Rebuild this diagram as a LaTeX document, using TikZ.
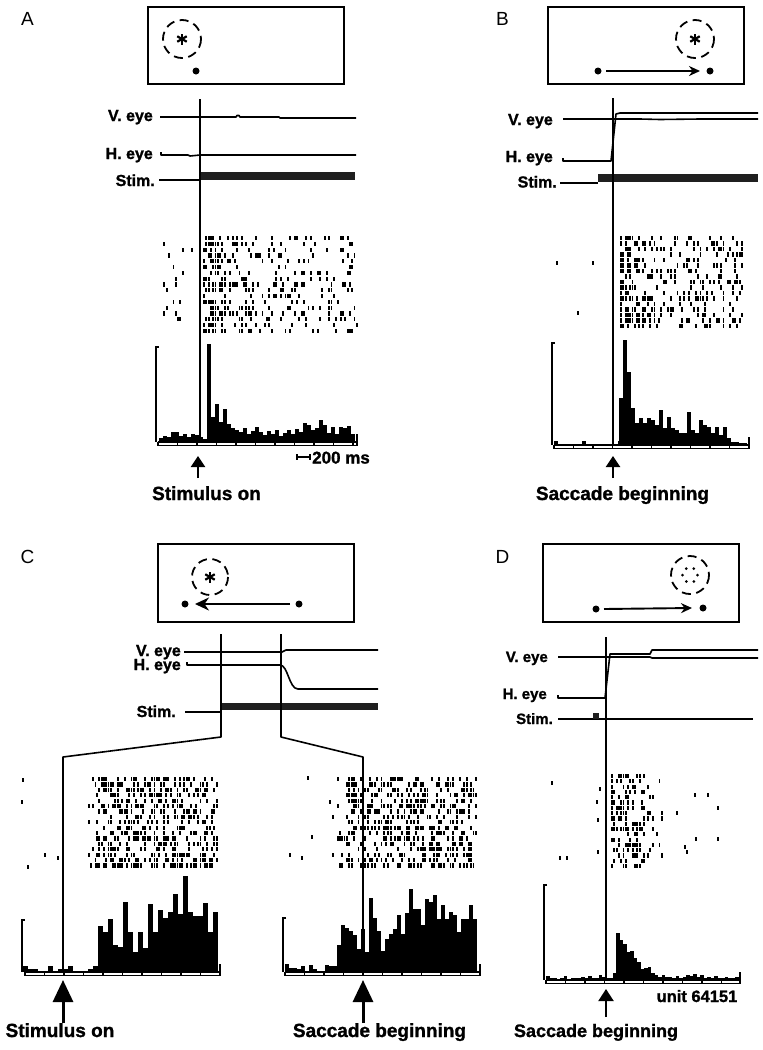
\documentclass[tikz,border=0pt]{standalone}
\usepackage{fontspec}
\setmainfont{Liberation Sans}[BoldFeatures={FakeBold=1.3}]
\usetikzlibrary{arrows.meta}

\newcommand\rasterblk[6]{% x0, x1, ytop, nrows, rowsep, probability
  \pgfmathtruncatemacro\rbn{(#2-#1)/2.3}%
  \foreach \rr in {1,...,#4}{%
    \foreach \cc in {0,...,\rbn}{%
      \pgfmathsetmacro\rbv{rnd}%
      \ifdim\rbv pt<#6pt
        \fill ({#1+\cc*2.3-0.95},{#3+(\rr-1)*#5-2.1}) rectangle ++(1.9,4.2);
      \fi
    }%
  }%
}
\newcommand\spk[2]{\fill ({#1-0.95},{#2-2.1}) rectangle ++(1.9,4.2);}
\newcommand\histo[4]{% x0, baseline, bin width, heights
  \foreach \hh [count=\ii from 0] in {#4}{%
    \fill ({#1+\ii*#3},#2) rectangle ({#1+(\ii+1)*#3},{#2-\hh});
  }}
\newcommand\haxis[4]{% x0, x1, y, tick spacing
  \draw[line width=1.2pt] (#1,#3) -- (#2,#3);
  \draw[line width=1.2pt] (#1,{#3+3.5}) -- (#2,{#3+3.5});
  \pgfmathtruncatemacro\hxn{(#2-#1)/#4}%
  \foreach \kk in {0,...,\hxn}{\draw[line width=1.1pt] ({#1+\kk*#4},#3) -- ++(0,3.5);}
  \draw[line width=1.3pt] (#2,{#3-8}) -- (#2,{#3+3.5});
}
\newcommand\ybrack[3]{\draw[line width=1.5pt] ({#1+3},#2) -- (#1,#2) -- (#1,#3);}
\newcommand\aster[2]{\foreach \aa in {90,30,-30}{\draw[line width=2.2pt] (#1,#2) ++(\aa:5.5) -- ++(\aa+180:11);}}

\tikzset{
  trace/.style={line width=1.6pt, line join=round},
  frame/.style={line width=1.8pt},
  evline/.style={line width=1.6pt},
  rf/.style={line width=1.8pt, dash pattern=on 9pt off 5.5pt},
  stimbar/.style={fill=black!88},
  tlabel/.style={font=\bfseries\fontsize{16}{19}\selectfont, anchor=base east, inner sep=0pt},
  dlabel/.style={font=\bfseries\fontsize{15}{18}\selectfont, anchor=base east, inner sep=0pt},
  biglabel/.style={font=\bfseries\fontsize{19}{22}\selectfont, anchor=base, inner sep=0pt},
  plabel/.style={font=\fontsize{19}{22}\selectfont, anchor=base, inner sep=0pt},
  evarrow/.style={line width=2.4pt, -{Triangle[width=14pt,length=11pt]}},
  bigarrow/.style={line width=3pt, -{Triangle[width=20pt,length=22pt]}},
  sacc/.style={line width=1.9pt, -{Stealth[width=10pt,length=11pt]}},
  dotf/.style={fill=black},
}

\begin{document}
\begin{tikzpicture}[x=1pt,y=-1pt]
\useasboundingbox (0,0) rectangle (763,1050);
\pgfmathsetseed{2718}

% ================= Panel A =================
\node[plabel] (A-let) at (27.5,25) {A};
\draw[frame] (148,7) rectangle (344,84);
\coordinate (A-rf) at (182,39);
\draw[rf] (A-rf) circle[radius=19];
\aster{182}{39}
\fill[dotf] (196,71) circle[radius=3.5];
\node[tlabel] (A-v) at (153,121) {V. eye};
\node[tlabel] (A-h) at (153,159) {H. eye};
\node[tlabel] (A-s) at (155,186) {Stim.};
\draw[trace] (160,117) -- (236,117) -- (237,115.5) -- (239,115.5) -- (240,117) -- (279,117) -- (280,118) -- (356,118);
\draw[trace] (161,152) -- (161,155) -- (188,155) -- (190,156) -- (200,155) -- (356,155);
\draw[trace] (159,180) -- (200,180);
\fill[stimbar] (200,172) rectangle (355,180);
\draw[evline] (200,99) -- (200,442);
\rasterblk{162}{197}{238}{17}{5.8}{0.06}
\rasterblk{204}{226}{238}{17}{5.8}{0.5}
\rasterblk{228}{357}{238}{17}{5.8}{0.22}
\ybrack{156}{347}{442}
\histo{159}{442}{4}{4,6,5,10,10,6,8,5,8,7,5,3,98,25,38,20,33,18,14,12,10,14,8,11,15,10,7,11,8,12,6,9,12,8,13,10,19,17,12,14,22,17,9,15,8,15,14,16,8}
\haxis{158}{357}{442}{19.5}
\draw[line width=1.6pt] (297,454) -- (297,460) (297,457) -- (310,457) (310,454) -- (310,460);
\node[font=\bfseries\fontsize{17}{20}\selectfont, anchor=base west, inner sep=0pt] (A-scale) at (312,463.5) {200 ms};
\coordinate (A-a0) at (198,478);
\coordinate (A-a1) at (198,456);
\draw[evarrow] (A-a0) -- (A-a1);
\node[biglabel] (A-ev) at (206.5,500) {Stimulus on};

% ================= Panel B =================
\node[plabel] (B-let) at (502.5,25) {B};
\draw[frame] (548,7) rectangle (744,84);
\coordinate (B-rf) at (695,39);
\draw[rf] (B-rf) circle[radius=19];
\aster{695}{39}
\fill[dotf] (598,71) coordinate (B-d1) circle[radius=3.5];
\fill[dotf] (710,71) coordinate (B-d2) circle[radius=3.5];
\draw[sacc] ([xshift=8pt]B-d1) -- ([xshift=-10pt]B-d2);
\node[tlabel] (B-v) at (553,125) {V. eye};
\node[tlabel] (B-h) at (553,162) {H. eye};
\node[tlabel] (B-s) at (557,187.5) {Stim.};
\draw[trace] (563,119) -- (640,119) -- (660,119.5) -- (700,119) -- (758,119);
\draw[trace] (563,158) -- (563,161) -- (611,161) -- (616,114) -- (620,113) -- (758,113);
\draw[trace] (560,183) -- (598,183);
\fill[stimbar] (598,174) rectangle (758,182);
\draw[evline] (613,98) -- (613,445);
\rasterblk{621}{641}{238}{17}{5.5}{0.55}
\rasterblk{643}{742}{238}{17}{5.5}{0.25}
\spk{557}{263}\spk{593}{263}\spk{578}{313}
\ybrack{552}{343}{445}
\histo{554}{445}{4}{4,0,0,0,0,0,1,4,0,0,0,1,0,0,0,1,4,0,0,0,1,1,1,1,0,0,0,0,0,0,0,0,0,0,0,0,0,0}
\histo{619}{445}{4}{47,105,73,37,22,27,22,27,25,20,35,17,28,17,15,12,12,33,15,12,25,20,18,12,18,10,18,7,3,3,2,2}
\haxis{554}{749}{445}{19.5}
\coordinate (B-a0) at (613,478);
\coordinate (B-a1) at (613,456);
\draw[evarrow] (B-a0) -- (B-a1);
\node[biglabel] (B-ev) at (622.5,500) {Saccade beginning};

% ================= Panel C =================
\node[plabel] (C-let) at (27.5,563) {C};
\draw[frame] (158,544) rectangle (354,622);
\coordinate (C-rf) at (210,577);
\draw[rf] (C-rf) circle[radius=18];
\aster{210}{577}
\fill[dotf] (185,604) coordinate (C-d1) circle[radius=3.5];
\fill[dotf] (299,604) coordinate (C-d2) circle[radius=3.5];
\draw[line width=2.6pt, -{Stealth[width=13pt,length=14pt]}] ([xshift=-9pt]C-d2) -- ([xshift=10pt]C-d1);
\node[tlabel] (C-v) at (181,656) {V. eye};
\node[tlabel] (C-h) at (181,670) {H. eye};
\node[tlabel] (C-s) at (176,717) {Stim.};
\draw[trace] (184,652) -- (282,652) -- (286,650) -- (378,650);
\draw[trace] (187,662) -- (187,665) -- (280,665) .. controls (288,665) and (289,689) .. (298,689) -- (378,689);
\draw[trace] (185,712) -- (221,712);
\fill[stimbar] (221,703) rectangle (378,710);
\draw[evline, line join=round] (221,634) -- (221,737) -- (63,757) -- (63,972);
\draw[evline, line join=round] (281,634) -- (281,737) -- (363,757) -- (363,972);
% left raster
\rasterblk{84}{96}{779}{17}{5.4}{0.08}
\rasterblk{97}{217}{779}{17}{5.4}{0.42}
\spk{23}{780}\spk{22}{802}\spk{45}{855}\spk{58}{858}\spk{28}{867}
% right raster
\rasterblk{333}{345}{779}{17}{5.4}{0.12}
\rasterblk{347}{477}{779}{17}{5.4}{0.42}
\spk{308}{778}\spk{330}{802}\spk{312}{837}\spk{290}{855}\spk{302}{858}
% left histogram
\ybrack{22}{920}{972}
\histo{23}{972}{5}{6,3,3,0,0,6,0,3,3,6,0,0,0,3,6,46,40,53,27,25,70,40,20,40,24,68,40,62,54,60,78,58,96,60,56,56,69,40,60}
\haxis{25}{220}{972}{19.5}
% right histogram
\ybrack{283}{918}{972}
\histo{285}{972}{4}{8,4,4,3,6,0,7,3,0,0,7,6,6,27,47,44,41,37,23,43,20,74,54,41,21,33,38,43,57,38,59,83,63,63,47,73,70,77,53,67,53,60,57,40,53,53,67,53}
\haxis{285}{480}{972}{19.5}
\coordinate (C-a0) at (63,1023);
\coordinate (C-a1) at (63,980);
\draw[bigarrow] (C-a0) -- (C-a1);
\coordinate (C-b0) at (363,1023);
\coordinate (C-b1) at (363,980);
\draw[bigarrow] (C-b0) -- (C-b1);
\node[biglabel] (C-ev1) at (60,1037) {Stimulus on};
\node[biglabel] (C-ev2) at (379.5,1037) {Saccade beginning};

% ================= Panel D =================
\node[plabel] (D-let) at (502.5,563) {D};
\draw[frame] (543,544) rectangle (739,622);
\coordinate (D-rf) at (690,575);
\draw[rf] (D-rf) circle[radius=19];
\foreach \aa in {0,60,...,300}{\fill (690,575) ++(\aa:7.5) circle[radius=1.5];}
\fill[dotf] (596,609) coordinate (D-d1) circle[radius=3.5];
\fill[dotf] (703,608) coordinate (D-d2) circle[radius=3.5];
\draw[sacc] ([xshift=8pt]D-d1) -- ([xshift=-11pt]D-d2);
\node[dlabel] (D-v) at (548,662) {V. eye};
\node[dlabel] (D-h) at (547,699) {H. eye};
\node[dlabel] (D-s) at (553,724) {Stim.};
\draw[trace] (558,657) -- (650,657) -- (652,658) -- (758,658);
\draw[trace] (558,695) -- (558,698) -- (605,698) -- (610,654) -- (650,654) -- (652,650) -- (758,650);
\draw[trace] (558,719) -- (753,719);
\fill[stimbar] (593,713) rectangle (599,719);
\draw[evline] (606,637) -- (606,980);
\rasterblk{612}{646}{776}{18}{5.3}{0.45}
\rasterblk{648}{662}{776}{18}{5.3}{0.12}
\spk{552}{783}\spk{600}{789}\spk{597}{802}\spk{598}{820}\spk{560}{858}\spk{567}{858}\spk{598}{852}
\spk{695}{795}\spk{708}{795}\spk{718}{808}\spk{677}{813}\spk{696}{839}\spk{718}{839}\spk{685}{847}\spk{687}{852}
\ybrack{544}{885}{980}
\histo{546}{980}{3.5}{4,2,2,1,2,4,1,2,2,2,3,2,4,2,2,5,3,2,2,7,47,40,36,28,29,22,18,11,12,13,7,5,3,5,3,3,2,4,2,3,5,4,6,3,5,2,3,2,4,2,2,3,2,2,3}
\haxis{546}{740}{980}{19.5}
\node[font=\bfseries\fontsize{16.5}{19}\selectfont, anchor=base, inner sep=0pt] (D-unit) at (697,1002) {unit 64151};
\coordinate (D-a0) at (606,1017);
\coordinate (D-a1) at (606,989);
\draw[line width=2pt, -{Triangle[width=15pt,length=12pt]}] (D-a0) -- (D-a1);
\node[font=\bfseries\fontsize{18}{21}\selectfont, anchor=base, inner sep=0pt] (D-ev) at (596,1037) {Saccade beginning};
\end{tikzpicture}
\end{document}
